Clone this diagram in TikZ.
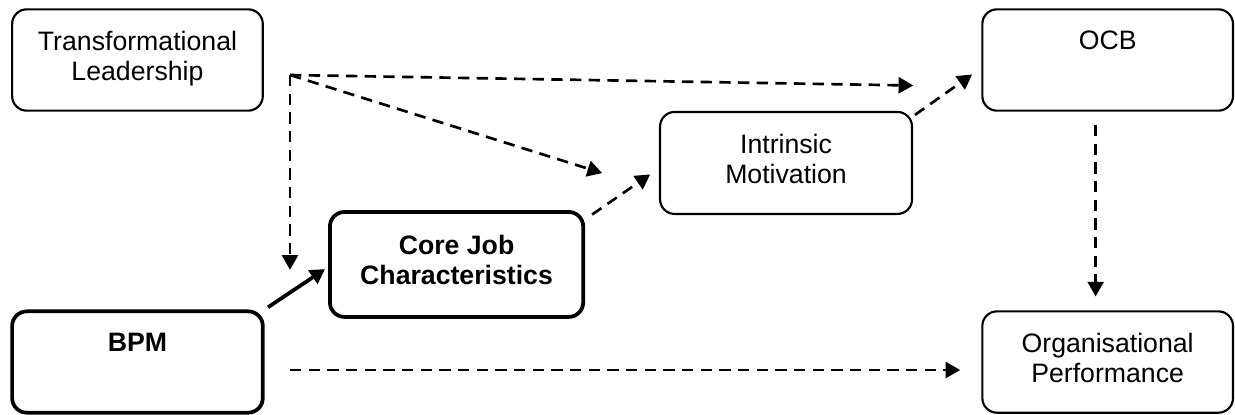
\documentclass[tikz,border=0pt]{standalone}
\usepackage{fontspec}
\setmainfont{Liberation Sans}
\usetikzlibrary{positioning, arrows.meta}

\begin{document}
\begin{tikzpicture}[> = {Triangle[length=11pt, width=12pt]}]
    \tikzset{
      box/.style={draw, line width=1.6pt, rounded corners=11pt, align=center,
        minimum width=188pt, minimum height=76pt, inner sep=0pt,
        font=\fontsize{20pt}{22.5pt}\selectfont},
      boldbox/.style={box, line width=2.8pt,
        font=\fontsize{20pt}{22.5pt}\selectfont\bfseries},
      dasharrow/.style={->, line width=2pt, dash pattern=on 8.5pt off 5.5pt},
      solidarrow/.style={->, line width=2.8pt},
    }
    \useasboundingbox (-103.1pt,45pt) rectangle (823.1pt,-265.5pt);

    \node [box] (tl) {Transformational\\Leadership\strut};
    \node [box, right=538pt of tl] (ocb) {OCB\\\strut};
    \node [boldbox, below=148.3pt of tl] (bpm) {BPM\\\strut};
    \node [box, below=148.9pt of ocb] (perf) {Organisational\\Performance\strut};
    \node [boldbox, minimum width=190pt, minimum height=78.75pt,
      above right=-7pt and 47.5pt of bpm] (cjc) {Core Job\\Characteristics\strut};
    \node [box, minimum width=189pt, minimum height=76.5pt,
      above right=-3.7pt and 55.4pt of cjc] (im) {Intrinsic\\Motivation\strut};
    \coordinate [below right=11.25pt and 19.6pt of tl.east] (fork);

    % leadership paths
    \path [dasharrow]
      (fork) edge [shorten >=51pt] ([yshift=-20pt]ocb.west)
      (fork) edge [shorten >=44.7pt] ([yshift=-21pt]im.west)
      (fork) edge [shorten >=-4pt] (fork |- cjc.west);

    \draw [solidarrow, shorten <=3pt, shorten >=2.7pt]
      (bpm.north east) -- ([yshift=-2pt]cjc.west);
    \path [dasharrow]
      ([yshift=-7pt]cjc.north east) edge [shorten <=6.4pt, shorten >=8.1pt] ([yshift=-4pt]im.west)
      ([yshift=-4pt]im.north east) edge [shorten <=1.7pt, shorten >=8.4pt] ([yshift=-6pt]ocb.west)
      ([xshift=-9pt]ocb.south) edge [shorten <=10pt, shorten >=10.4pt] ([xshift=-9pt]perf.north)
      ([yshift=-6pt]bpm.east) edge [shorten <=19pt, shorten >=15.8pt] ([yshift=-6pt]perf.west);

  \end{tikzpicture}
\end{document}
